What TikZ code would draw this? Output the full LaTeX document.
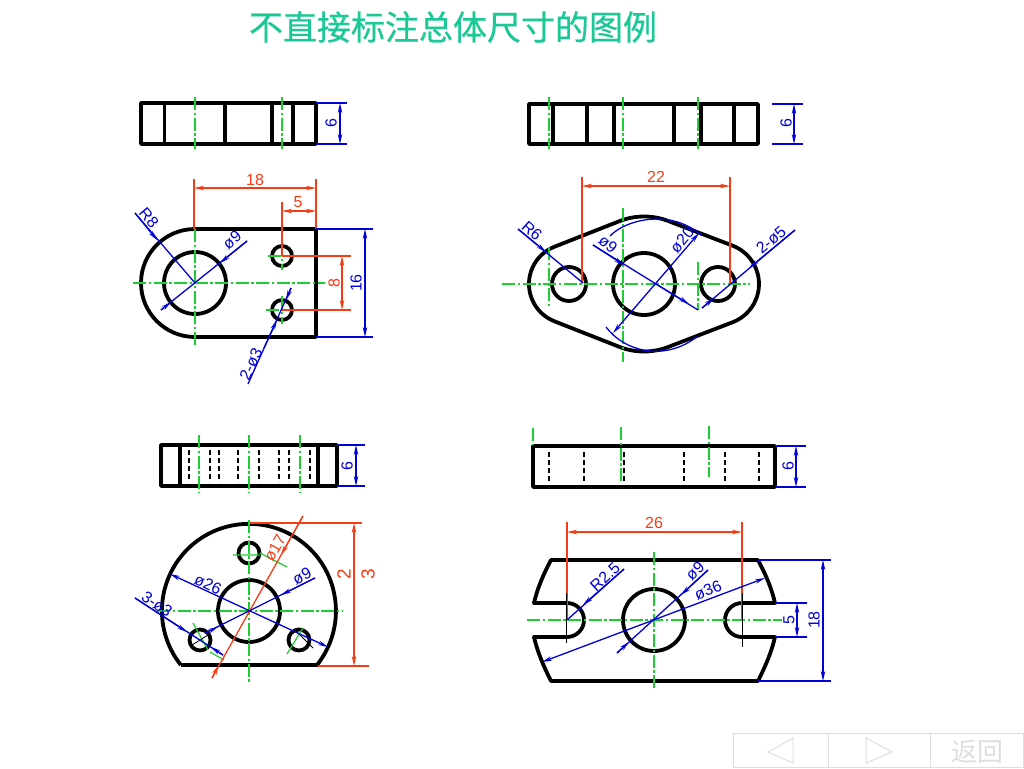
\documentclass[tikz,border=0pt]{standalone}
\usepackage{fontspec}
\setmainfont{Liberation Sans}
\newfontfamily\cjk{Noto Sans CJK SC}
\newfontfamily\cjktitle[FakeBold=0.6]{Noto Sans CJK SC}
\usetikzlibrary{arrows.meta}
\definecolor{titleteal}{RGB}{28, 200, 150}
\definecolor{dimblue}{RGB}{0, 0, 215}
\definecolor{dimred}{RGB}{245, 60, 20}
\definecolor{axisgreen}{RGB}{30, 205, 50}
\definecolor{navgray}{RGB}{222, 222, 222}
\tikzset{
  dimtip/.tip={Stealth[length=10pt,width=4.5pt]},
  outline/.style={line width=3.8pt, black, line join=round},
  hidden/.style={line width=1.2pt, black, dash pattern=on 5pt off 3pt},
  axis/.style={line width=1.4pt, axisgreen, dash pattern=on 13pt off 2.5pt on 2.5pt off 2.5pt},
  bluedim/.style={line width=1.3pt, dimblue},
  reddim/.style={line width=1.3pt, dimred},
  bluetxt/.style={text=dimblue, inner sep=0pt, font=\fontsize{16}{16}\selectfont},
  redtxt/.style={text=dimred, inner sep=0pt, font=\fontsize{16}{16}\selectfont},
  navbox/.style={line width=1pt, navgray}
}
\begin{document}
\begin{tikzpicture}[x=1pt, y=-1pt]
  \useasboundingbox (0,0) rectangle (1024,768);

  % Title
  \node[text=titleteal, inner sep=0pt, font=\fontsize{34}{34}\cjktitle] (title) at (453, 27) {不直接标注总体尺寸的图例};

  % Upper left, top view
  \draw[outline] (141,103) rectangle (316,144);
  \foreach \xv in {164.5, 225, 272, 293}
    \draw[outline] (\xv,103) -- (\xv,144);
  \foreach \xv in {195, 282}
    \draw[axis] (\xv,97) -- (\xv,149);
  \draw[bluedim] (316,103) -- (347,103) (316,144) -- (347,144);
  \draw[bluedim, dimtip-dimtip] (340,103) -- (340,144);
  \node[bluetxt, rotate=90] (ulsix) at (331,123) {6};

  % Upper left, front view
  \draw[outline] (195,229) -- (316,229) -- (316,337) -- (195,337) arc[start angle=270, end angle=90, radius=54pt];
  \draw[outline] (195,283) circle[radius=31pt];
  \draw[outline] (282,256) circle[radius=10pt];
  \draw[outline] (282,310) circle[radius=10pt];
  \draw[axis] (133,283) -- (325,283);
  \draw[axis] (195,229) -- (195,347);
  \draw[axis] (282,243) -- (282,270);
  \draw[axis] (282,296) -- (282,324);
  \draw[axis] (266,310) -- (298,310);
  \draw[axis] (268,256) -- (298,256);
  \draw[reddim] (194,179) -- (194,229) (316,179) -- (316,229) (282,202) -- (282,256);
  \draw[reddim, dimtip-dimtip] (194,188) -- (316,188);
  \draw[reddim, dimtip-dimtip] (282,211) -- (316,211);
  \draw[reddim] (282,256) -- (351,256) (282,310) -- (351,310);
  \draw[reddim, dimtip-dimtip] (342,256) -- (342,310);
  \node[redtxt] (ulwidth) at (255,180) {18};
  \node[redtxt] (ulgap) at (298,202) {5};
  \node[redtxt, rotate=90] (ulpitch) at (334,283) {8};
  \draw[bluedim] (316,229) -- (373,229) (316,337) -- (373,337);
  \draw[bluedim, dimtip-dimtip] (365,229) -- (365,337);
  \node[bluetxt, rotate=90] (ulheight) at (356,283) {16};
  \draw[bluedim] (135,213) -- (195,283);
  \draw[bluedim, -dimtip] (135,213) -- (157,240);
  \node[bluetxt, rotate=-50] (ulradius) at (149,218) {R8};
  \draw[bluedim] (161,310) -- (247,241);
  \draw[bluedim, -dimtip] (247,241) -- (220,263);
  \draw[bluedim, -dimtip] (161,310) -- (171,302);
  \node[bluetxt, rotate=40] (ulbore) at (232,240) {ø9};
  \draw[bluedim] (291,288) -- (248,384);
  \draw[bluedim, -dimtip] (291,288) -- (286,300);
  \draw[bluedim, -dimtip] (264,348) -- (277,320);
  \node[bluetxt, rotate=65] (ulholes) at (251,364) {2-ø3};

  % Upper right, top view
  \draw[outline] (529,104) rectangle (758,144);
  \foreach \xv in {553, 587, 614, 674, 701, 734}
    \draw[outline] (\xv,104) -- (\xv,144);
  \foreach \xv in {549, 623, 698}
    \draw[axis] (\xv,97) -- (\xv,149);
  \draw[bluedim] (772,104) -- (803,104) (772,144) -- (803,144);
  \draw[bluedim, dimtip-dimtip] (794,104) -- (794,144);
  \node[bluetxt, rotate=90] (ursix) at (786,123) {6};

  % Upper right, front view
  \draw[outline] (554.3,246.8) arc[start angle=111.5, end angle=248.5, radius=40pt]
    -- (619.2,346.8) arc[start angle=248.5, end angle=291.5, radius=67.5pt]
    -- (733,322.1) arc[start angle=291.5, end angle=428.5, radius=41pt]
    -- (668.8,221.2) arc[start angle=68.5, end angle=111.5, radius=67.5pt] -- cycle;
  \draw[outline] (644,284) circle[radius=31pt];
  \draw[outline] (569,284) circle[radius=17pt];
  \draw[outline] (718,284) circle[radius=17pt];
  \draw[axis] (502,284) -- (750,284);
  \draw[axis] (549,247) -- (549,308);
  \draw[axis] (623,208) -- (623,362);
  \draw[axis] (698,262) -- (698,310);
  \draw[reddim] (582,177) -- (582,283) (730,177) -- (730,283);
  \draw[reddim, dimtip-dimtip] (582,186) -- (730,186);
  \node[redtxt] (urwidth) at (656,177) {22};
  \draw[bluedim] (610,236) .. controls (625,220) and (670,208) .. (701,235);
  \draw[bluedim] (606,327) .. controls (625,352) and (665,362) .. (698,336);
  \draw[bluedim] (518,229) -- (583,283);
  \draw[bluedim, -dimtip] (518,229) -- (546,252);
  \node[bluetxt, rotate=-42] (urradius) at (532,231) {R6};
  \draw[bluedim] (593,245) -- (698,310);
  \draw[bluedim, -dimtip] (593,245) -- (624,265);
  \draw[bluedim, -dimtip] (656,284) -- (689,304);
  \node[bluetxt, rotate=-40] (urbore) at (608,244) {ø9};
  \draw[bluedim, -dimtip] (656,283) -- (699,233);
  \draw[bluedim, -dimtip] (656,283) -- (613,333);
  \node[bluetxt, rotate=50] (urdia) at (682,240) {ø20};
  \draw[bluedim] (702,308) -- (795,230);
  \draw[bluedim, -dimtip] (795,230) -- (749,268);
  \draw[bluedim, -dimtip] (702,308) -- (714,298);
  \node[bluetxt, rotate=40] (urholes) at (771,240) {2-ø5};

  % Lower left, top view
  \draw[outline] (161,445) rectangle (337,486);
  \foreach \xv in {180, 318}
    \draw[outline] (\xv,445) -- (\xv,486);
  \foreach \xv in {189, 210, 219, 238, 259, 279, 289, 310}
    \draw[hidden] (\xv,450) -- (\xv,482);
  \foreach \xv in {199, 249, 300}
    \draw[axis] (\xv,435) -- (\xv,492);
  \draw[bluedim] (337,445) -- (365,445) (337,486) -- (365,486);
  \draw[bluedim, dimtip-dimtip] (356,445) -- (356,486);
  \node[bluetxt, rotate=90] (llsix) at (347,466) {6};

  % Lower left, front view
  \draw[outline] (181,665) -- (317,665) arc[start angle=-38.5, end angle=218.5, radius=87pt];
  \draw[outline] (249,611) circle[radius=31pt];
  \foreach \xv/\yv in {249/553, 200/640, 299/640}
    \draw[outline] (\xv,\yv) circle[radius=10.5pt];
  \draw[axis] (157,611) -- (342,611);
  \draw[axis] (249,520) -- (249,683);
  \draw[axisgreen, line width=1.2pt] (233,555) -- (260,555) (260,553) -- (287,567) (193,623) -- (208,650) (210,652) -- (224,660) (287,654) -- (303,628);
  \draw[black, line width=.8pt] (192,645) -- (208,635) (297,632) -- (313,648);
  \draw[reddim] (212,678) -- (303,516);
  \draw[reddim, -dimtip] (303,516) -- (281,555);
  \draw[reddim, -dimtip] (212,678) -- (219,665);
  \node[redtxt, rotate=60] (lldia) at (275,548) {ø17};
  \draw[reddim] (250,523) -- (362,523) (318,666) -- (369,666);
  \draw[reddim, dimtip-dimtip] (354,523) -- (354,666);
  \node[redtxt, rotate=90, font=\fontsize{19}{19}\selectfont] (llinner) at (344,574) {2};
  \node[redtxt, rotate=90, font=\fontsize{19}{19}\selectfont] (llouter) at (368,574) {3};
  \draw[bluedim, dimtip-dimtip] (170,574) -- (328,647);
  \node[bluetxt, rotate=-25] (llwide) at (208,584) {ø26};
  \draw[bluedim] (315,578) -- (205,633);
  \draw[bluedim, -dimtip] (315,578) -- (281,595);
  \draw[bluedim, -dimtip] (205,633) -- (218,627);
  \node[bluetxt, rotate=27] (llbore) at (302,576) {ø9};
  \draw[bluedim] (135,598) -- (223,655);
  \draw[bluedim, -dimtip] (135,598) -- (187,632);
  \draw[bluedim, -dimtip] (223,655) -- (211,647);
  \node[bluetxt, rotate=-35] (llholes) at (157,604) {3-ø3};

  % Lower right, top view
  \draw[outline] (533,446) rectangle (775,487);
  \foreach \xv in {549, 584, 624, 684, 725, 759}
    \draw[hidden] (\xv,452) -- (\xv,482);
  \draw[axis] (533,428) -- (533,445);
  \draw[axis] (621,427) -- (621,482);
  \draw[axis] (709,426) -- (709,477);
  \draw[bluedim] (775,446) -- (806,446) (775,487) -- (806,487);
  \draw[bluedim, dimtip-dimtip] (796,446) -- (796,487);
  \node[bluetxt, rotate=90] (lrsix) at (788,466) {6};

  % Lower right, front view
  \draw[outline] (551,560) -- (758,560) .. controls (767,577) and (772,590) .. (775,603)
    -- (742,603) arc[start angle=90, end angle=270, radius=17pt] -- (775,637)
    .. controls (772,650) and (767,663) .. (758,681) -- (551,681)
    .. controls (542,663) and (537,650) .. (534,637)
    -- (567,637) arc[start angle=-90, end angle=90, radius=17pt] -- (534,603)
    .. controls (537,590) and (542,577) .. (551,560) -- cycle;
  \draw[outline] (654,620) circle[radius=31pt];
  \draw[axis] (527,620) -- (782,620);
  \draw[axis] (654,552) -- (654,688);
  \draw[reddim] (567,522) -- (567,620) (742,522) -- (742,620);
  \draw[black, line width=.8pt] (566,593) -- (566,643) (742,593) -- (742,647);
  \draw[reddim, dimtip-dimtip] (567,532) -- (742,532);
  \node[redtxt] (lrwidth) at (654,523) {26};
  \draw[bluedim] (567,620) -- (624,569);
  \draw[bluedim, -dimtip] (624,569) -- (583,605);
  \node[bluetxt, rotate=43] (lrradius) at (605,577) {R2.5};
  \draw[bluedim] (708,570) -- (617,653);
  \draw[bluedim, -dimtip] (708,570) -- (681,595);
  \draw[bluedim, -dimtip] (617,653) -- (629,642);
  \node[bluetxt, rotate=43] (lrbore) at (695,571) {ø9};
  \draw[bluedim, dimtip-dimtip] (542,662) -- (765,578);
  \node[bluetxt, rotate=21] (lrdia) at (708,590) {ø36};
  \draw[bluedim] (775,603) -- (807,603) (775,637) -- (807,637);
  \draw[bluedim, dimtip-dimtip] (797,603) -- (797,637);
  \node[bluetxt, rotate=90] (lrslot) at (789,620) {5};
  \draw[bluedim] (758,560) -- (831,560) (758,681) -- (831,681);
  \draw[bluedim, dimtip-dimtip] (823,560) -- (823,681);
  \node[bluetxt, rotate=90] (lrheight) at (814,620) {18};

  % Navigation bar
  \draw[navbox] (733,733) rectangle (1023,767);
  \draw[navbox] (828,733) -- (828,767) (930,733) -- (930,767);
  \draw[navbox] (768,752) -- (793,738) -- (793,763) -- cycle;
  \draw[navbox] (866,738) -- (892,752) -- (866,763) -- cycle;
  \node[text=navgray, inner sep=0pt, font=\fontsize{26}{26}\cjk] (back) at (977,752) {返回};
\end{tikzpicture}
\end{document}
